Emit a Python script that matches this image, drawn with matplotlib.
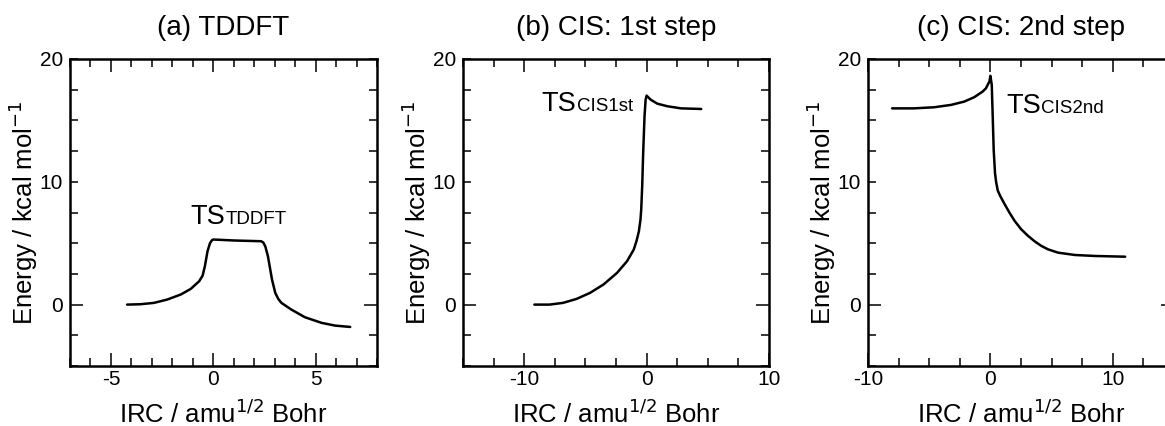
import matplotlib
matplotlib.use("Agg")
import matplotlib.pyplot as plt
from matplotlib.ticker import FixedLocator, MultipleLocator, FuncFormatter

plt.rcParams['font.family'] = ['Liberation Sans', 'DejaVu Sans']
plt.rcParams['axes.unicode_minus'] = False

# ---- data ----
titles = ["(a) TDDFT", "(b) CIS: 1st step", "(c) CIS: 2nd step"]
ts_subscripts = ["TDDFT", "CIS1st", "CIS2nd"]

irc_a = [-4.21, -3.56, -2.90, -2.25, -1.59, -1.10, -0.69, -0.52, -0.41, -0.28, -0.16, -0.06, 0.00,
         1.03, 2.34, 2.45, 2.55, 2.67, 2.87, 3.03, 3.18, 3.33, 3.82, 4.48, 5.30, 5.95, 6.69]
energy_a = [0.00, 0.03, 0.14, 0.41, 0.82, 1.28, 1.90, 2.36, 3.13, 4.35, 5.00, 5.25, 5.30,
            5.22, 5.16, 5.05, 4.70, 3.94, 2.04, 0.95, 0.45, 0.14, -0.41, -1.03, -1.49, -1.71, -1.82]

irc_b = [-9.17, -7.93, -6.83, -5.73, -4.63, -3.53, -2.42, -1.60, -1.05, -0.83, -0.63, -0.50, -0.44,
         -0.36, -0.28, -0.17, -0.08, 0.00, 0.33, 0.88, 1.71, 2.81, 4.46]
energy_b = [0.00, 0.00, 0.14, 0.46, 0.95, 1.63, 2.58, 3.53, 4.48, 5.16, 5.97, 6.92, 7.73,
            9.63, 12.35, 15.33, 16.69, 17.02, 16.69, 16.36, 16.15, 15.98, 15.93]

irc_c = [-8.03, -6.25, -4.60, -3.23, -2.14, -1.32, -0.63, -0.36, -0.08, 0.00, 0.11, 0.19, 0.27,
         0.38, 0.47, 0.60, 0.80, 1.15, 1.55, 1.97, 2.50, 3.07, 3.62, 4.16, 4.71, 5.53, 6.90, 8.55, 11.01]
energy_c = [15.98, 15.98, 16.07, 16.26, 16.53, 16.89, 17.35, 17.62, 18.17, 18.63, 17.90, 15.30, 12.57,
            10.66, 9.97, 9.29, 8.85, 8.20, 7.50, 6.83, 6.15, 5.60, 5.15, 4.78, 4.50, 4.23, 4.04, 3.96, 3.90]

xlims = [(-7, 8), (-15, 10), (-10, 15)]
xmajor = [[-5, 0, 5], [-10, 0, 10], [-10, 0, 10]]
xminor_step = [1, 2.5, 2.5]
ts_pos = [(-1.13, 6.6), (-8.6, 15.8), (1.3, 15.6)]

series = [(irc_a, energy_a), (irc_b, energy_b), (irc_c, energy_c)]

# ---- layout ----
W, H = 1165, 426
fig = plt.figure(figsize=(W / 100, H / 100), dpi=100)
lefts = [70, 463, 868]
widths = [307, 306, 306]
bottom_px, top_px = 366, 59

for i in range(3):
    ax = fig.add_axes([lefts[i] / W, (H - bottom_px) / H, widths[i] / W, (bottom_px - top_px) / H])
    x, y = series[i]
    ax.plot(x, y, color='black', lw=1.8, solid_joinstyle='round', solid_capstyle='round')
    ax.set_xlim(*xlims[i])
    ax.set_ylim(-5, 20)

    ax.xaxis.set_major_locator(FixedLocator(xmajor[i]))
    ax.xaxis.set_minor_locator(MultipleLocator(xminor_step[i]))
    ax.yaxis.set_major_locator(FixedLocator([0]))
    ax.yaxis.set_minor_locator(MultipleLocator(2.5))
    ax.yaxis.set_minor_formatter(FuncFormatter(
        lambda v, p: f"{v:g}" if abs(v - 10) < 1e-6 or abs(v - 20) < 1e-6 else ""))

    ax.tick_params(which='both', direction='in', top=True, right=True, width=1.1,
                   labelsize=15, colors='black')
    ax.tick_params(which='major', length=9.5)
    ax.tick_params(which='minor', length=5.5)
    ax.tick_params(axis='x', which='both', pad=3)
    ax.tick_params(axis='y', which='both', pad=5)
    for s in ax.spines.values():
        s.set_linewidth(1.8)

    ax.set_xlabel("IRC / amu$^{1/2}$ Bohr", fontsize=18.5)
    ax.set_ylabel("Energy / kcal mol$^{-1}$", fontsize=18.5)
    ax.xaxis.set_label_coords(0.5, -0.11)
    ax.yaxis.set_label_coords(-0.098, 0.5)
    ax.set_title(titles[i], fontsize=20, pad=17)

    tx, ty = ts_pos[i]
    ts = ax.text(tx, ty, "TS", fontsize=19.5, ha='left', va='baseline')
    ax.annotate(ts_subscripts[i], xy=(1, 0), xycoords=ts, xytext=(0.3, 4.1),
                textcoords='offset points', fontsize=13.5, ha='left', va='baseline')

fig.savefig("out.png", dpi=100)
